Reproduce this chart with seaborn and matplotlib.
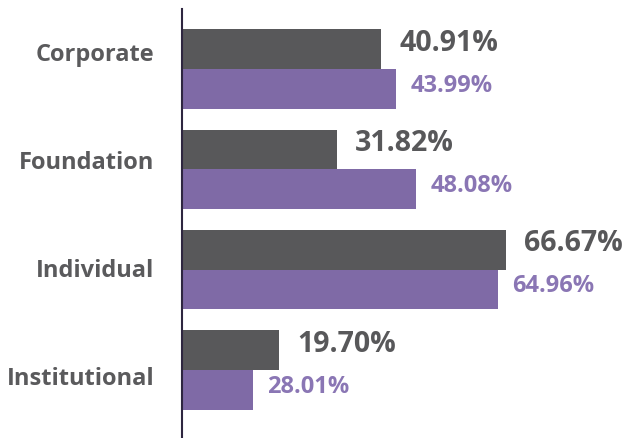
import pandas as pd
import matplotlib
matplotlib.use('Agg')
import matplotlib.pyplot as plt
import seaborn as sns

# ── Data ─────────────────────────────────────────────────────────────────────
categories = ['Corporate', 'Foundation', 'Individual', 'Institutional']
series = ['Series A', 'Series B']
# bar lengths as drawn in the picture
values_a = [40.91, 31.82, 66.67, 19.9]
values_b = [43.99, 48.08, 64.96, 14.5]
# printed labels
labels_a = ['40.91%', '31.82%', '66.67%', '19.70%']
labels_b = ['43.99%', '48.08%', '64.96%', '28.01%']

df = pd.DataFrame({
    'category': categories * 2,
    'series': [series[0]] * 4 + [series[1]] * 4,
    'value': values_a + values_b,
})

DARK = '#58585a'
PURPLE = '#7f6aa6'
PURPLE_TXT = '#8a76b4'
GREY_TXT = '#5a5a5c'

sns.set_style('white')
plt.rcParams['font.family'] = ['Open Sans', 'DejaVu Sans']
plt.rcParams['font.weight'] = 'bold'

fig = plt.figure(figsize=(6.29, 4.38), dpi=100)
ax = fig.add_axes([182 / 629, 0, 447 / 629, 429 / 438])

sns.barplot(data=df, y='category', x='value', hue='series', orient='h',
            palette=[DARK, PURPLE], width=0.79, saturation=1,
            linewidth=0, legend=False, ax=ax)

ax.set_xlim(0, 91.9)
ax.set_ylim(3.678, -0.598)

# value labels
styles = [(labels_a, DARK, 20.5, 13, 4.3), (labels_b, PURPLE_TXT, 17, 10.5, 2.2)]
for cont, (labs, col, fs, dx, dy) in zip(ax.containers, styles):
    for p, txt in zip(cont, labs):
        w = p.get_width()
        ax.annotate(txt, (w, p.get_y() + p.get_height() / 2),
                    xytext=(dx, dy), textcoords='offset points',
                    ha='left', va='center', color=col, fontsize=fs,
                    fontweight='bold', annotation_clip=False)

ax.set_xlabel('')
ax.set_ylabel('')
ax.set_xticks([])
# category labels sit slightly off the group centres in the original
ax.set_yticks([-0.17 + 1.077 * i for i in range(len(categories))])
ax.set_yticklabels(categories)
ax.tick_params(axis='y', length=0, pad=20)
for lbl in ax.get_yticklabels():
    lbl.set_fontsize(17)
    lbl.set_fontweight('bold')
    lbl.set_color(GREY_TXT)

for s in ['top', 'right', 'bottom']:
    ax.spines[s].set_visible(False)
ax.spines['left'].set_color('#2e2640')
ax.spines['left'].set_linewidth(1.5)

plt.savefig('out.png', dpi=100)
plt.close()
